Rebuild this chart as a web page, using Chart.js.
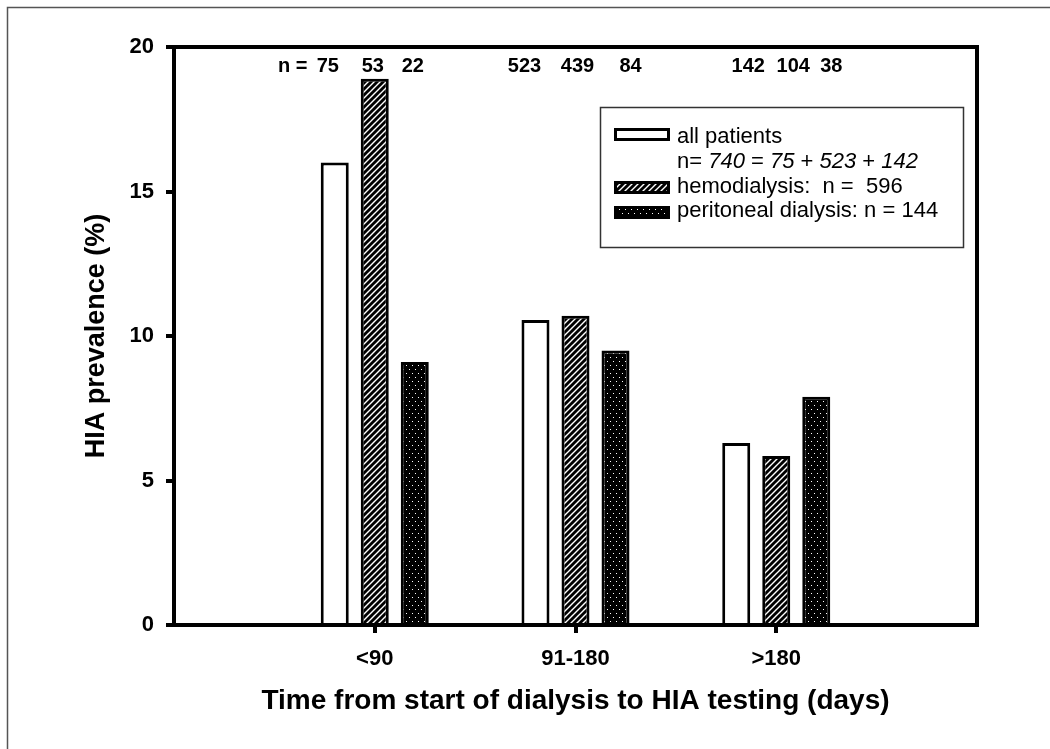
<!DOCTYPE html>
<html>
<head>
<meta charset="utf-8">
<script src="https://cdn.jsdelivr.net/npm/chart.js@4/dist/chart.umd.min.js"></script>
<style>
body { margin: 0; background: #fff; }
#wrap { width: 1050px; height: 749px; position: relative; }
</style>
</head>
<body>
<div id="wrap"><canvas id="hiaChart"></canvas></div>
<script>
// categories and values (HIA prevalence, %)
var categories = ['<90', '91-180', '>180'];
var allPatients = [16.0, 10.55, 6.3];
var hemodialysis = [18.9, 10.7, 5.85];
var peritoneal = [9.1, 9.5, 7.9];
// patient counts written above each group
var nCounts = [[75, 53, 22], [523, 439, 84], [142, 104, 38]];
var yTicks = [0, 5, 10, 15, 20];

var FONT = "'Liberation Sans', Arial, sans-serif";

// empty slot on both sides of the three groups
function pad(arr) {
    return [null].concat(arr, [null]);
}

// black fill with white marks, like the old SigmaPlot fills
function makePattern(kind) {
    var c = document.createElement('canvas');
    var g = c.getContext('2d');
    if (kind === 'hatch') {
        c.width = 6;
        c.height = 6;
        g.fillStyle = '#000';
        g.fillRect(0, 0, 6, 6);
        g.strokeStyle = '#fff';
        g.lineWidth = 1.4;
        g.beginPath();
        g.moveTo(0, 6); g.lineTo(6, 0);
        g.moveTo(-1, 1); g.lineTo(1, -1);
        g.moveTo(5, 7); g.lineTo(7, 5);
        g.stroke();
    } else {
        c.width = 6;
        c.height = 8;
        g.fillStyle = '#000';
        g.fillRect(0, 0, 6, 8);
        g.fillStyle = '#fff';
        g.fillRect(1, 1, 1, 1);
        g.fillRect(4, 5, 1, 1);
    }
    return g.createPattern(c, 'repeat');
}

var hatch = makePattern('hatch');
var dots = makePattern('dots');

// top + right frame, thin outer page border
const framePlugin = {
    id: 'frame',
    beforeDraw: function(chart) {
        var ctx = chart.ctx;
        ctx.save();
        ctx.strokeStyle = '#555';
        ctx.lineWidth = 1.5;
        ctx.beginPath();
        ctx.moveTo(7.5, 749);
        ctx.lineTo(7.5, 7.5);
        ctx.lineTo(1050, 7.5);
        ctx.stroke();
        ctx.restore();
    },
    afterDraw: function(chart) {
        var a = chart.chartArea;
        var ctx = chart.ctx;
        ctx.save();
        ctx.strokeStyle = '#000';
        ctx.lineWidth = 4;
        ctx.beginPath();
        ctx.moveTo(a.left, a.top);
        ctx.lineTo(a.right, a.top);
        ctx.lineTo(a.right, a.bottom + 2);
        ctx.stroke();
        ctx.restore();
    }
};

// "n = 75 53 22 ..." above the groups
const nLabelPlugin = {
    id: 'nLabels',
    afterDraw: function(chart) {
        var ctx = chart.ctx;
        var x = chart.scales.x;
        var offsets = [[-47, -2, 38], [-51, 2, 55], [-28, 17, 55]];
        ctx.save();
        ctx.fillStyle = '#000';
        ctx.font = 'bold 20px ' + FONT;
        ctx.textAlign = 'center';
        ctx.textBaseline = 'middle';
        ctx.fillText('n =', x.getPixelForValue(1) - 82, 66);
        for (var i = 0; i < nCounts.length; i++) {
            var cx = x.getPixelForValue(i + 1);
            for (var j = 0; j < nCounts[i].length; j++) {
                ctx.fillText(String(nCounts[i][j]), cx + offsets[i][j], 66);
            }
        }
        ctx.restore();
    }
};

// boxed legend with the extra italic line
const legendPlugin = {
    id: 'boxLegend',
    afterDraw: function(chart) {
        var ctx = chart.ctx;
        var ds = chart.data.datasets;
        ctx.save();
        ctx.lineWidth = 1.5;
        ctx.strokeStyle = '#333';
        ctx.strokeRect(600.5, 107.5, 363, 140);

        var swTops = [128, 181, 206];
        for (var i = 0; i < 3; i++) {
            ctx.fillStyle = ds[i].backgroundColor;
            ctx.fillRect(614, swTops[i], 56, 13);
            ctx.lineWidth = 3;
            ctx.strokeStyle = '#000';
            ctx.strokeRect(615.5, swTops[i] + 1.5, 53, 10);
        }

        ctx.fillStyle = '#000';
        ctx.textBaseline = 'alphabetic';
        ctx.textAlign = 'left';
        var normal = '22px ' + FONT;
        var italic = 'italic 22px ' + FONT;
        ctx.font = normal;
        ctx.fillText('all patients', 677, 143);

        var parts = [['n= ', normal], ['740', italic], [' = ', normal], ['75', italic],
                     [' + ', normal], ['523', italic], [' + ', normal], ['142', italic]];
        var px = 677;
        parts.forEach(function(p) {
            ctx.font = p[1];
            ctx.fillText(p[0], px, 168);
            px += ctx.measureText(p[0]).width;
        });

        ctx.font = normal;
        ctx.fillText('hemodialysis:  n =  596', 677, 193);
        ctx.fillText('peritoneal dialysis: n = 144', 677, 217);
        ctx.restore();
    }
};

const data = {
    labels: [''].concat(categories, ['']),
    datasets: [{
        label: 'all patients',
        data: pad(allPatients),
        backgroundColor: '#fff',
        borderColor: '#000',
        borderWidth: 3
    }, {
        label: 'hemodialysis',
        data: pad(hemodialysis),
        backgroundColor: hatch,
        borderColor: '#000',
        borderWidth: 3
    }, {
        label: 'peritoneal dialysis',
        data: pad(peritoneal),
        backgroundColor: dots,
        borderColor: '#000',
        borderWidth: 3
    }]
};

const config = {
    type: 'bar',
    data: data,
    options: {
        responsive: true,
        maintainAspectRatio: false,
        animation: false,
        datasets: {
            bar: { categoryPercentage: 0.598, barPercentage: 0.7 }
        },
        layout: { padding: { left: 80, right: 73, top: 47, bottom: 0 } },
        plugins: {
            legend: { display: false },
            tooltip: { enabled: false }
        },
        scales: {
            x: {
                offset: false,
                grid: {
                    offset: false,
                    drawOnChartArea: false,
                    tickLength: 8,
                    lineWidth: 4,
                    color: function(ctx) {
                        return ctx.tick && ctx.tick.label ? '#000' : 'rgba(0,0,0,0)';
                    }
                },
                border: { color: '#000', width: 4 },
                ticks: {
                    color: '#000',
                    font: { family: FONT, size: 22, weight: 'bold' },
                    padding: 13,
                    maxRotation: 0,
                    autoSkip: false
                },
                title: {
                    display: true,
                    text: 'Time from start of dialysis to HIA testing (days)',
                    color: '#000',
                    font: { family: FONT, size: 28, weight: 'bold' },
                    padding: { top: 0, bottom: 31 }
                },
                afterFit: function(s) { s.height = 124; }
            },
            y: {
                min: 0,
                max: 20,
                grid: {
                    drawOnChartArea: false,
                    tickLength: 8,
                    lineWidth: 4,
                    color: '#000'
                },
                border: { color: '#000', width: 4 },
                ticks: {
                    color: '#000',
                    font: { family: FONT, size: 22, weight: 'bold' },
                    padding: 12
                },
                afterBuildTicks: function(s) {
                    s.ticks = yTicks.map(function(v) { return { value: v }; });
                },
                title: {
                    display: true,
                    text: 'HIA prevalence (%)',
                    color: '#000',
                    font: { family: FONT, size: 27, weight: 'bold' },
                    padding: { top: 0, bottom: 0 }
                },
                afterFit: function(s) { s.width = 94; }
            }
        }
    },
    plugins: [framePlugin, nLabelPlugin, legendPlugin]
};

const hiaChart = new Chart('hiaChart', config);
</script>
</body>
</html>
